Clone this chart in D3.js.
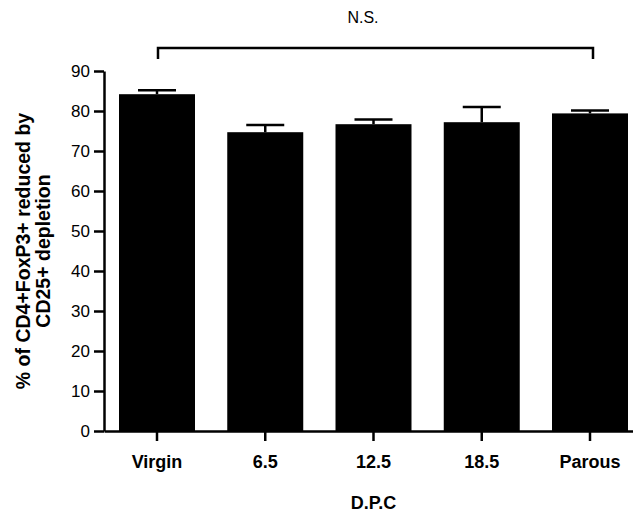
<!DOCTYPE html>
<html>
<head>
<meta charset="utf-8">
<script src="https://cdn.jsdelivr.net/npm/d3@7"></script>
<style>
  body { margin: 0; background: #fff; }
  svg { font-family: "Liberation Sans", Arial, sans-serif; }
</style>
</head>
<body>
<div id="plot"></div>
<script>
// Chart data
const categories = ["Virgin", "6.5", "12.5", "18.5", "Parous"];
const means = [84.2, 74.7, 76.7, 77.2, 79.4];
const upperErr = [85.2, 76.5, 77.9, 81.0, 80.1];
const yTicks = [0, 10, 20, 30, 40, 50, 60, 70, 80, 90];

const width = 633, height = 517;
const axisLeft = 104, axisBottom = 431, axisTop = 71;

const svg = d3.select("#plot")
    .append("svg")
    .attr("width", width)
    .attr("height", height);

const x = d3.scaleBand()
    .domain(categories)
    .range([axisLeft, 643])
    .paddingInner(0.298)
    .paddingOuter(0.1386);

const y = d3.scaleLinear()
    .domain([0, 90])
    .range([axisBottom, axisTop]);

// Bars
svg.selectAll("rect.bar")
    .data(categories.map((c, i) => ({ c, v: means[i], e: upperErr[i] })))
    .join("rect")
    .attr("class", "bar")
    .attr("x", d => x(d.c))
    .attr("y", d => y(d.v))
    .attr("width", x.bandwidth())
    .attr("height", d => y(0) - y(d.v))
    .attr("fill", "#000");

// Error bars (upper only)
const errs = svg.append("g")
    .attr("stroke", "#000")
    .attr("stroke-width", 2.5);

categories.forEach((c, i) => {
    const cx = x(c) + x.bandwidth() / 2;
    const capHalf = x.bandwidth() / 4;
    errs.append("line")
        .attr("x1", cx).attr("x2", cx)
        .attr("y1", y(means[i])).attr("y2", y(upperErr[i]));
    errs.append("line")
        .attr("x1", cx - capHalf).attr("x2", cx + capHalf)
        .attr("y1", y(upperErr[i])).attr("y2", y(upperErr[i]));
});

// Y axis
const yAxis = svg.append("g")
    .attr("transform", `translate(${axisLeft},0)`)
    .call(d3.axisLeft(y).tickValues(yTicks).tickSize(10).tickPadding(4).tickSizeOuter(0));
yAxis.select(".domain").attr("stroke-width", 2.5);
yAxis.selectAll(".tick line").attr("stroke-width", 2.5);
yAxis.selectAll(".tick text")
    .attr("font-size", 17)
    .attr("font-family", "Liberation Sans, Arial, sans-serif")
    .attr("fill", "#000");

// X axis
const xAxis = svg.append("g")
    .attr("transform", `translate(0,${axisBottom})`)
    .call(d3.axisBottom(x).tickSize(10).tickPadding(14).tickSizeOuter(0));
xAxis.select(".domain").attr("stroke-width", 2.5);
xAxis.selectAll(".tick line").attr("stroke-width", 2.5);
xAxis.selectAll(".tick text")
    .attr("font-size", 18)
    .attr("font-weight", "bold")
    .attr("font-family", "Liberation Sans, Arial, sans-serif")
    .attr("fill", "#000");

// Axis titles
svg.append("text")
    .attr("x", x("12.5") + x.bandwidth() / 2)
    .attr("y", 509)
    .attr("text-anchor", "middle")
    .attr("font-size", 18)
    .attr("font-weight", "bold")
    .text("D.P.C");

const yTitle = svg.append("text")
    .attr("transform", `translate(30,${(axisTop + axisBottom) / 2}) rotate(-90)`)
    .attr("text-anchor", "middle")
    .attr("font-size", 19.5)
    .attr("font-weight", "bold");
yTitle.append("tspan").attr("x", 0).attr("dy", 0).text("% of CD4+FoxP3+ reduced by");
yTitle.append("tspan").attr("x", 0).attr("dy", 20).text("CD25+ depletion");

// Significance bracket
const bx1 = x("Virgin") + x.bandwidth() / 2 + 1;
const bx2 = x("Parous") + x.bandwidth() / 2 + 3;
svg.append("path")
    .attr("d", `M${bx1},59 V48 H${bx2} V59`)
    .attr("fill", "none")
    .attr("stroke", "#000")
    .attr("stroke-width", 2.5);

svg.append("text")
    .attr("x", 363)
    .attr("y", 23)
    .attr("text-anchor", "middle")
    .attr("font-size", 16)
    .text("N.S.");
</script>
</body>
</html>
